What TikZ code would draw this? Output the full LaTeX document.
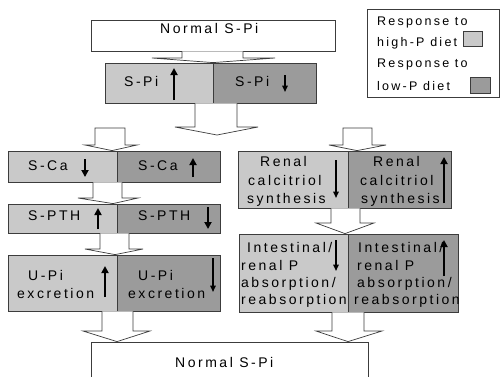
\documentclass[tikz,border=0pt]{standalone}
\usepackage{fontspec}
\setmainfont{Liberation Sans}[LetterSpace=18]
\usetikzlibrary{arrows.meta}
\definecolor{lite}{RGB}{201,201,201}
\definecolor{dark}{RGB}{155,155,155}
\definecolor{edge}{RGB}{60,60,60}
\newcommand\bx[6]{\node[#2, minimum width={(#5-#3)*1pt}, minimum height={(#6-#4)*1pt}] (#1) at ({(#3+#5)/2},{(#4+#6)/2}) {};}
\newcommand\barr[8]{\draw[barrow] (#1,0 |- #3) -- (#1,#4) -- (#5,#4) -- (#7,0 |- #8) -- (#6,#4) -- (#2,#4) -- (#2,0 |- #3);}
\tikzset{
  box/.style={draw=edge, line width=0.8pt, inner sep=0pt, rectangle},
  lbox/.style={box, fill=lite},
  dbox/.style={box, fill=dark},
  wbox/.style={box, fill=white},
  txt/.style={anchor=base west, inner sep=0pt, font=\fontsize{14}{17}\selectfont},
  ltxt/.style={anchor=base west, inner sep=0pt, font=\fontsize{12.5}{14}\selectfont},
  barrow/.style={draw=edge, line width=0.7pt, fill=white, line join=miter},
  thickarr/.style={line width=2.6pt, -{Triangle[width=7pt,length=7pt]}, black},
  thinarr/.style={line width=1.5pt, -{Triangle[width=5.5pt,length=6.5pt]}, black},
}
\begin{document}
\begin{tikzpicture}[x=1pt,y=-1pt]
\clip (0,0) rectangle (500,376);
\fill[white] (0,0) rectangle (500,376);
% boxes
\bx{top}{wbox}{91}{20}{335}{51}
\bx{spiL}{lbox}{105}{63}{213}{103}
\bx{spiR}{dbox}{213}{63}{316}{103}
\bx{scaL}{lbox}{8}{151}{117}{182}
\bx{scaR}{dbox}{117}{151}{220}{182}
\bx{sptL}{lbox}{8}{204}{117}{233}
\bx{sptR}{dbox}{117}{204}{220}{233}
\bx{upiL}{lbox}{8}{255}{117}{311}
\bx{upiR}{dbox}{117}{255}{220}{311}
\bx{renL}{lbox}{238}{151}{348}{208}
\bx{renR}{dbox}{348}{151}{451}{208}
\bx{intL}{lbox}{239}{234}{348}{312}
\bx{intR}{dbox}{348}{234}{458}{312}
\bx{bot}{wbox}{91}{342}{368}{400}
\bx{legend}{wbox}{367}{9}{499}{97}
\bx{hisq}{lbox}{463}{31}{482}{46}
\bx{losq}{dbox}{470}{77}{490}{93}
% block arrows
\barr{182}{243}{top.south}{58}{152}{275}{213}{spiL.north}
\coordinate (fan) at (217,135);
\barr{195}{237}{spiL.south}{127}{175}{258}{217}{fan}
\draw[barrow] (95,128) -- (95,145) -- (85,145) -- (112,0 |- scaL.north) -- (137,145) -- (125,145) -- (125,128) -- cycle;
\draw[barrow] (343,128) -- (343,145) -- (329,145) -- (357,0 |- renL.north) -- (386,145) -- (372,145) -- (372,128) -- cycle;
\barr{93}{122}{scaL.south}{198}{78}{138}{113}{sptL.north}
\barr{100}{129}{sptL.south}{249}{85}{143}{115}{upiL.north}
\barr{102}{133}{upiL.south}{331}{83}{150}{117}{bot.north}
\barr{331}{360}{renL.south}{223}{316}{374}{345}{intL.north}
\barr{332}{364}{intL.south}{331}{316}{382}{348}{bot.north}
% texts
\node[txt] (t1) at (160,33) {Normal S-Pi};
\node[txt] (t2) at (124,86) {S-Pi};
\node[txt] (t3) at (235,86) {S-Pi};
\node[txt] (t4) at (28,170) {S-Ca};
\node[txt] (t5) at (138,170) {S-Ca};
\node[txt] (t6) at (28,220) {S-PTH};
\node[txt] (t7) at (138,220) {S-PTH};
\node[txt] (t8) at (28,280) {U-Pi};
\node[txt] (t9) at (17,298) {excretion};
\node[txt] (t10) at (138,280) {U-Pi};
\node[txt] (t11) at (128,298) {excretion};
\node[txt] (t12) at (260,166) {Renal};
\node[txt] (t13) at (248,185) {calcitriol};
\node[txt] (t14) at (247,203) {synthesis};
\node[txt] (t15) at (373,166) {Renal};
\node[txt] (t16) at (360,185) {calcitriol};
\node[txt] (t17) at (361,203) {synthesis};
\node[txt] (t18) at (247,252) {Intestinal/};
\node[txt] (t19) at (241,270) {renal P};
\node[txt] (t20) at (241,287) {absorption/};
\node[txt] (t21) at (241,304) {reabsorption};
\node[txt] (t22) at (358,252) {Intestinal/};
\node[txt] (t23) at (357,270) {renal P};
\node[txt] (t24) at (357,287) {absorption/};
\node[txt] (t25) at (354,304) {reabsorption};
\node[txt] (t26) at (175,367) {Normal S-Pi};
\node[ltxt] (l1) at (377,25) {Response to};
\node[ltxt] (l2) at (377,46) {high-P diet};
\node[ltxt] (l3) at (377,67) {Response to};
\node[ltxt] (l4) at (377,90) {low-P diet};
% trend arrows
\draw[thickarr] (174,100) -- (174,68);
\draw[thinarr] (285,75) -- (285,92);
\draw[thickarr] (85,159) -- (85,177);
\draw[thickarr] (193,177) -- (193,158);
\draw[thickarr] (98,229) -- (98,208);
\draw[thickarr] (208,207) -- (208,229);
\draw[thinarr] (336,160) -- (336,198);
\draw[thickarr] (444,203) -- (444,157);
\draw[thickarr] (105,297) -- (105,266);
\draw[thinarr] (213,258) -- (213,292);
\draw[thinarr] (336,240) -- (336,271);
\draw[thickarr] (444,276) -- (444,240);
\end{tikzpicture}
\end{document}
